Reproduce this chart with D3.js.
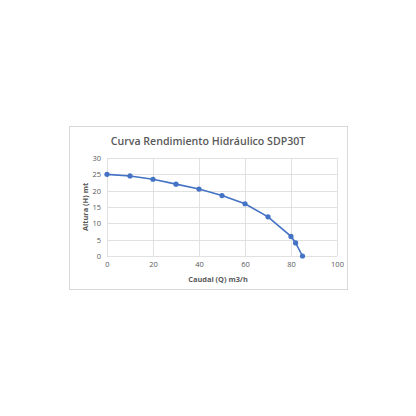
<!DOCTYPE html>
<html>
<head>
<meta charset="utf-8">
<script src="https://cdn.jsdelivr.net/npm/d3@7"></script>
<style>
  html, body { margin: 0; padding: 0; background: #fff; }
  svg text { font-family: "Open Sans", "Noto Sans", sans-serif; fill: #595959; }
</style>
</head>
<body>
<script>
// data
var caudal = [0, 10, 20, 30, 40, 50, 60, 70, 80, 82, 85];
var altura = [25, 24.5, 23.5, 22, 20.5, 18.5, 16, 12, 6, 4, 0];
var xTicks = [0, 20, 40, 60, 80, 100];
var yTicks = [0, 5, 10, 15, 20, 25, 30];

var width = 416, height = 416,
    frame = { x: 69, y: 126, w: 278, h: 163 },
    plot = { left: 107, right: 337, top: 158, bottom: 256 },
    color = "#4472c4", grid = "#d9d9d9";

var points = caudal.map((q, i) => ({ q: q, h: altura[i] }));

var svg = d3.select("body").append("svg")
    .attr("width", width)
    .attr("height", height);

// chart frame
svg.append("rect")
    .attr("x", frame.x + 0.5)
    .attr("y", frame.y + 0.5)
    .attr("width", frame.w)
    .attr("height", frame.h)
    .attr("fill", "#fff")
    .attr("stroke", grid);

var x = d3.scaleLinear().domain([0, 100]).range([plot.left, plot.right]);
var y = d3.scaleLinear().domain([0, 30]).range([plot.bottom, plot.top]);

// gridlines
svg.append("g")
    .selectAll("line.v")
    .data(xTicks)
    .enter().append("line")
    .attr("x1", d => Math.round(x(d)) + 0.5)
    .attr("x2", d => Math.round(x(d)) + 0.5)
    .attr("y1", plot.top)
    .attr("y2", plot.bottom)
    .attr("stroke", grid)
    .attr("stroke-width", 0.8);

svg.append("g")
    .selectAll("line.h")
    .data(yTicks)
    .enter().append("line")
    .attr("x1", plot.left)
    .attr("x2", plot.right)
    .attr("y1", d => Math.round(y(d)) + 0.5)
    .attr("y2", d => Math.round(y(d)) + 0.5)
    .attr("stroke", grid)
    .attr("stroke-width", 0.8);

// axes (labels only)
var xAxis = d3.axisBottom(x).tickValues(xTicks).tickSize(0).tickPadding(6);
var yAxis = d3.axisLeft(y).tickValues(yTicks).tickSize(0).tickPadding(6);

var gx = svg.append("g")
    .attr("transform", `translate(0,${plot.bottom})`)
    .call(xAxis);
var gy = svg.append("g")
    .attr("transform", `translate(${plot.left},0)`)
    .call(yAxis);
[gx, gy].forEach(g => {
    g.select(".domain").remove();
    g.selectAll("text").style("font-size", "7.5px").attr("fill", "#595959");
});

// the curve
svg.append("path")
    .datum(points)
    .attr("fill", "none")
    .attr("stroke", color)
    .attr("stroke-width", 1.6)
    .attr("d", d3.line().x(d => x(d.q)).y(d => y(d.h)));

svg.append("g")
    .selectAll("circle")
    .data(points)
    .enter().append("circle")
    .attr("cx", d => x(d.q))
    .attr("cy", d => y(d.h))
    .attr("r", 2.6)
    .attr("fill", color);

// titles
svg.append("text")
    .attr("x", 208)
    .attr("y", 145)
    .attr("text-anchor", "middle")
    .style("font-size", "10.6px")
    .style("font-weight", "600")
    .text("Curva Rendimiento Hidráulico SDP30T");

svg.append("text")
    .attr("x", 218)
    .attr("y", 282)
    .attr("text-anchor", "middle")
    .style("font-size", "7.4px")
    .style("font-weight", "bold")
    .text("Caudal (Q) m3/h");

svg.append("text")
    .attr("transform", "translate(88,207) rotate(-90)")
    .attr("text-anchor", "middle")
    .style("font-size", "7.4px")
    .style("font-weight", "bold")
    .text("Altura (H) mt");
</script>
</body>
</html>
